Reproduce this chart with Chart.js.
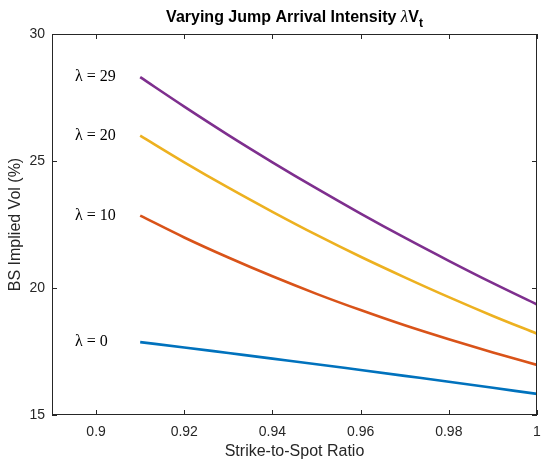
<!DOCTYPE html>
<html>
<head>
<meta charset="utf-8">
<script src="https://cdn.jsdelivr.net/npm/chart.js@4.4.0/dist/chart.umd.min.js"></script>
<style>
  html, body { margin: 0; padding: 0; background: #fff; overflow: hidden; }
  canvas { display: block; }
</style>
</head>
<body>
<canvas id="chart" width="541" height="463"></canvas>
<script>
// strike-to-spot grid and implied vols (%) for each jump intensity
const strikes = [0.91, 0.92, 0.93, 0.94, 0.95, 0.96, 0.97, 0.98, 0.99, 1.00];
const vol0  = [17.87, 17.66, 17.44, 17.22, 17.00, 16.77, 16.54, 16.31, 16.07, 15.83];
const vol10 = [22.85, 21.99, 21.20, 20.46, 19.77, 19.13, 18.53, 17.98, 17.46, 16.97];
const vol20 = [26.00, 24.95, 23.95, 23.00, 22.09, 21.23, 20.42, 19.64, 18.90, 18.20];
const vol29 = [28.30, 27.14, 26.02, 24.95, 23.92, 22.93, 21.98, 21.07, 20.19, 19.35];
const seriesLabels = ['\u03bb = 0', '\u03bb = 10', '\u03bb = 20', '\u03bb = 29'];
const xTicks = [0.9, 0.92, 0.94, 0.96, 0.98, 1];
const yTicks = [15, 20, 25, 30];

const colors = ['#0072BD', '#D95319', '#EDB120', '#7E2F8E'];
const axisColor = '#262626';
const sans = '"Liberation Sans", Arial, sans-serif';

function pts(vals){ return strikes.map((s, i) => ({ x: s, y: vals[i] })); }

const datasets = [vol0, vol10, vol20, vol29].map((v, i) => ({
  label: seriesLabels[i],
  data: pts(v),
  borderColor: colors[i],
  borderWidth: 2.6,
  pointRadius: 0,
  cubicInterpolationMode: 'monotone',
  fill: false
}));

// box, inward ticks, title, curve labels
const matlabAxes = {
  id: 'matlabAxes',
  afterDraw(chart){
    const ctx = chart.ctx, a = chart.chartArea;
    const xs = chart.scales.x, ys = chart.scales.y;
    ctx.save();
    ctx.strokeStyle = axisColor;
    ctx.lineWidth = 1;
    ctx.strokeRect(a.left + 0.5, a.top + 0.5, a.right - a.left - 1, a.bottom - a.top - 1);
    ctx.beginPath();
    xTicks.forEach(v => {
      const px = Math.round(xs.getPixelForValue(v)) + 0.5;
      ctx.moveTo(px, a.bottom); ctx.lineTo(px, a.bottom - 5);
      ctx.moveTo(px, a.top); ctx.lineTo(px, a.top + 5);
    });
    yTicks.forEach(v => {
      const py = Math.round(ys.getPixelForValue(v)) + 0.5;
      ctx.moveTo(a.left, py); ctx.lineTo(a.left + 5, py);
      ctx.moveTo(a.right, py); ctx.lineTo(a.right - 5, py);
    });
    ctx.stroke();

    // title with subscript
    ctx.fillStyle = '#000';
    ctx.textBaseline = 'alphabetic';
    ctx.textAlign = 'left';
    const parts = [
      { t: 'Varying Jump Arrival Intensity ', f: 'bold 16px ' + sans, dy: 0 },
      { t: '\u03bb', f: 'italic 17px "Liberation Serif", serif', dy: 0 },
      { t: 'V', f: 'bold 16px ' + sans, dy: 0 },
      { t: 't', f: 'bold 12px ' + sans, dy: 5 }
    ];
    let total = 0;
    parts.forEach(p => { ctx.font = p.f; p.w = ctx.measureText(p.t).width; total += p.w; });
    let x0 = (a.left + a.right) / 2 - total / 2;
    parts.forEach(p => { ctx.font = p.f; ctx.fillText(p.t, x0, 22 + p.dy); x0 += p.w; });

    // curve labels at the start of each line
    ctx.font = '16px "Liberation Serif", "DejaVu Serif", serif';
    ctx.textBaseline = 'middle';
    chart.data.datasets.forEach(ds => {
      const p = ds.data[0];
      ctx.fillText(ds.label, xs.getPixelForValue(0.8952), ys.getPixelForValue(p.y));
    });
    ctx.restore();
  }
};

const tickFont = { family: sans, size: 14 };
const titleFont = { family: sans, size: 16 };

new Chart(document.getElementById('chart'), {
  type: 'line',
  data: { datasets },
  options: {
    responsive: false,
    animation: false,
    layout: { padding: { top: 34, right: 4, left: 0, bottom: 0 } },
    plugins: { legend: { display: false }, tooltip: { enabled: false } },
    scales: {
      x: {
        type: 'linear', min: 0.89, max: 1.0,
        afterBuildTicks: s => { s.ticks = xTicks.map(v => ({ value: v })); },
        afterFit: s => { s.height = 48; s.paddingLeft = 0; s.paddingRight = 0; },
        grid: { display: false, drawTicks: false },
        border: { display: false },
        ticks: { color: axisColor, font: tickFont, padding: 9, maxRotation: 0,
                 callback: v => String(+v.toFixed(2)) },
        title: { display: true, text: 'Strike-to-Spot Ratio', color: axisColor, font: titleFont, padding: { top: 2, bottom: 2 } }
      },
      y: {
        min: 15, max: 30,
        afterBuildTicks: s => { s.ticks = yTicks.map(v => ({ value: v })); },
        afterFit: s => { s.width = 52; },
        grid: { display: false, drawTicks: false },
        border: { display: false },
        ticks: { color: axisColor, font: tickFont, padding: 7 },
        title: { display: true, text: 'BS Implied Vol (%)', color: axisColor, font: titleFont, padding: { top: 6, bottom: 2 } }
      }
    }
  },
  plugins: [matlabAxes]
});
</script>
</body>
</html>
